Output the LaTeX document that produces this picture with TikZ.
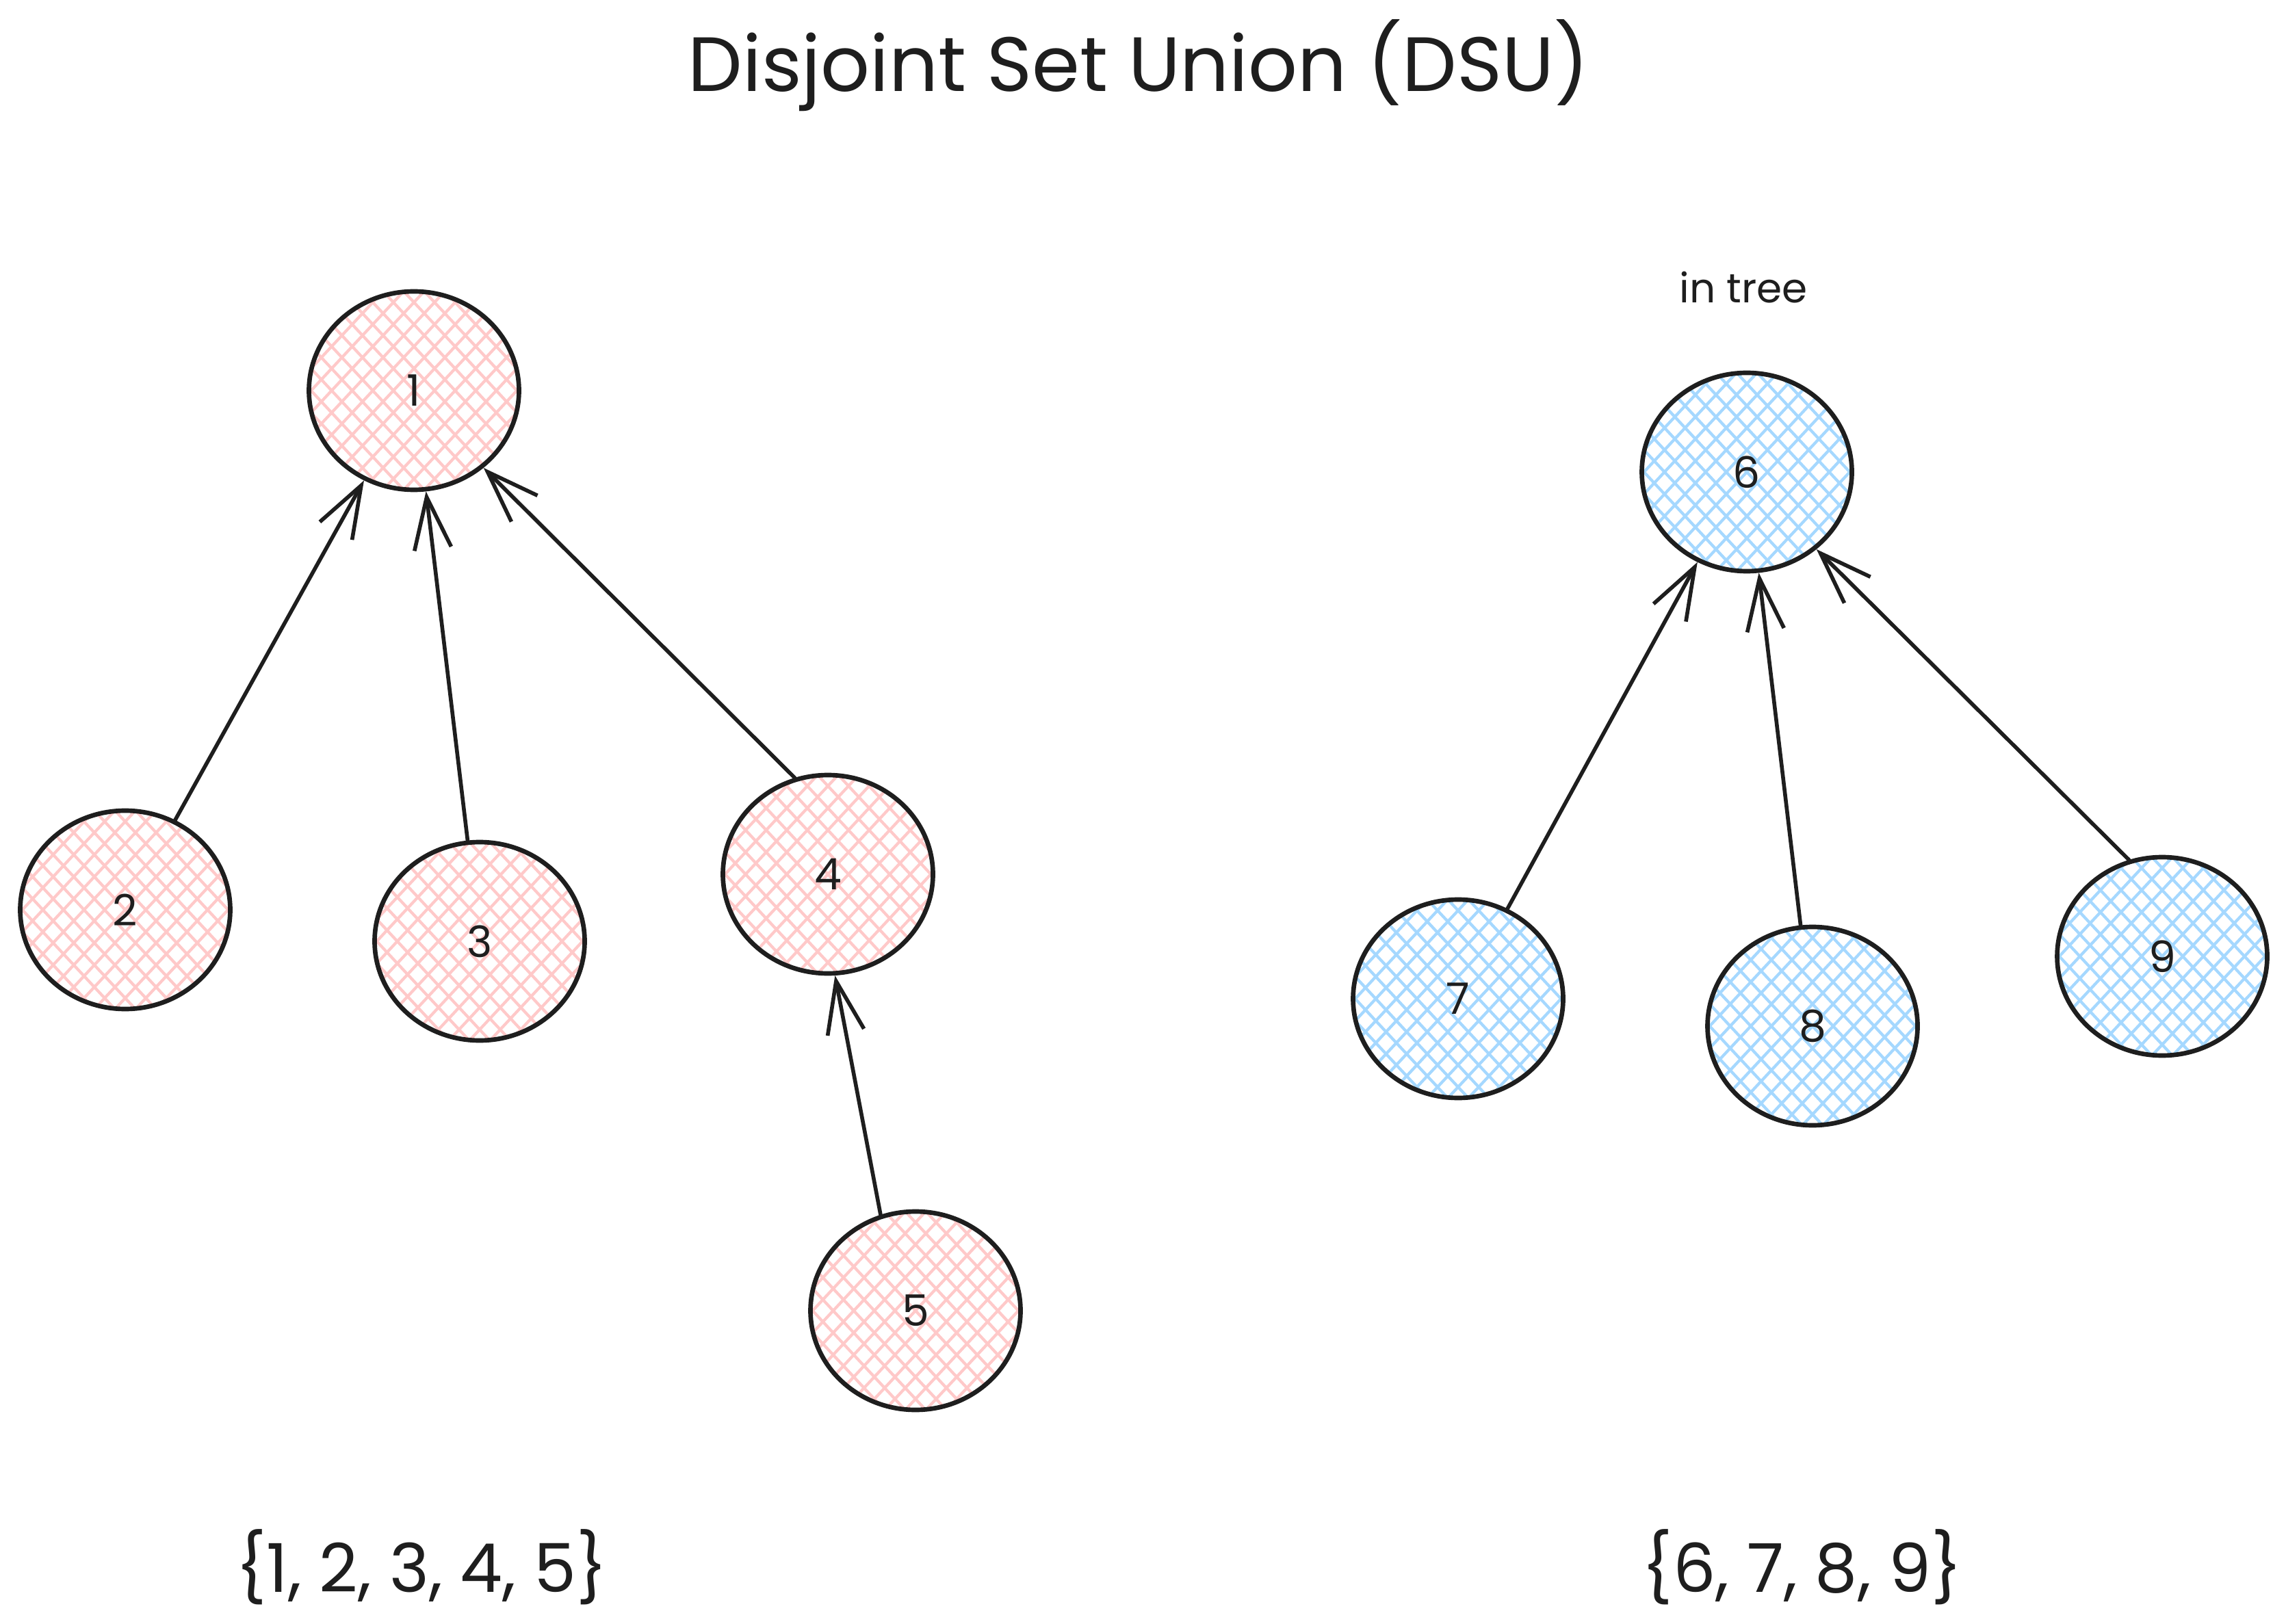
\documentclass[tikz,border=0pt]{standalone}
\usepackage{fontspec}
\setmainfont{Poppins}
\usepackage{tikz}
\usetikzlibrary{shapes.geometric, arrows.meta, calc}
\definecolor{inkdark}{HTML}{1E1E1E}
\definecolor{hatchpink}{HTML}{FFC9C9}
\definecolor{hatchblue}{HTML}{A5D8FF}
\tikzset{
  hatch/.style={path picture={
    \foreach \k in {-8,...,8}{
      \draw[#1, line width=1.2pt] ($(path picture bounding box.center)+(43:\k*0.22)+(133:2)$) -- ++(-47:4);
      \draw[#1, line width=1.2pt] ($(path picture bounding box.center)+(-43:\k*0.22)+(47:2)$) -- ++(-133:4);
    }}}
}
\tikzstyle{setnode} = [ellipse, minimum width=3.07cm, minimum height=2.9cm, draw=inkdark, line width=1.9pt, inner sep=0pt, text=inkdark, font=\fontsize{18pt}{21pt}\selectfont]
\tikzstyle{pinknode} = [setnode, hatch=hatchpink]
\tikzstyle{bluenode} = [setnode, hatch=hatchblue]
\tikzstyle{arrow} = [line width=1.6pt, draw=inkdark, line cap=round, -{Straight Barb[length=7.6mm, width=5.4mm]}]
\tikzstyle{label} = [text=inkdark, inner sep=0pt]

\begin{document}
\begin{tikzpicture}
  \path[use as bounding box, fill=white] (0,0) rectangle (33.41,-23.74);

  \node[label, font=\fontsize{32pt}{38pt}\selectfont] (title) at (16.64,-0.96) {Disjoint Set Union (DSU)};

  % first set
  \node[pinknode] (n1) at (6.05,-5.71) {1};
  \node[pinknode] (n2) at (1.83,-13.30) {2};
  \node[pinknode] (n3) at (7.01,-13.76) {3};
  \node[pinknode] (n4) at (12.10,-12.78) {4};
  \node[pinknode] (n5) at (13.38,-19.16) {5};

  % second set
  \node[bluenode] (n6) at (25.53,-6.90) {6};
  \node[bluenode] (n7) at (21.31,-14.60) {7};
  \node[bluenode] (n8) at (26.49,-15.00) {8};
  \node[bluenode] (n9) at (31.60,-13.98) {9};
  \node[label, font=\fontsize{17pt}{20pt}\selectfont] (intree) at (25.48,-4.20) {in tree};

  \node[label, font=\fontsize{28pt}{32pt}\selectfont] (set1) at (6.16,-22.91) {\{1, 2, 3, 4, 5\}};
  \node[label, font=\fontsize{28pt}{32pt}\selectfont] (set2) at (26.34,-22.91) {\{6, 7, 8, 9\}};

  \draw[arrow] (n2) -- (n1);
  \draw[arrow] (n3) -- (n1);
  \draw[arrow] (n4.109) -- (n1.-48);
  \draw[arrow] (n5.110) -- (n4.-86);
  \draw[arrow] (n7) -- (n6);
  \draw[arrow] (n8) -- (n6);
  \draw[arrow] (n9.109) -- (n6.-48);
\end{tikzpicture}
\end{document}
